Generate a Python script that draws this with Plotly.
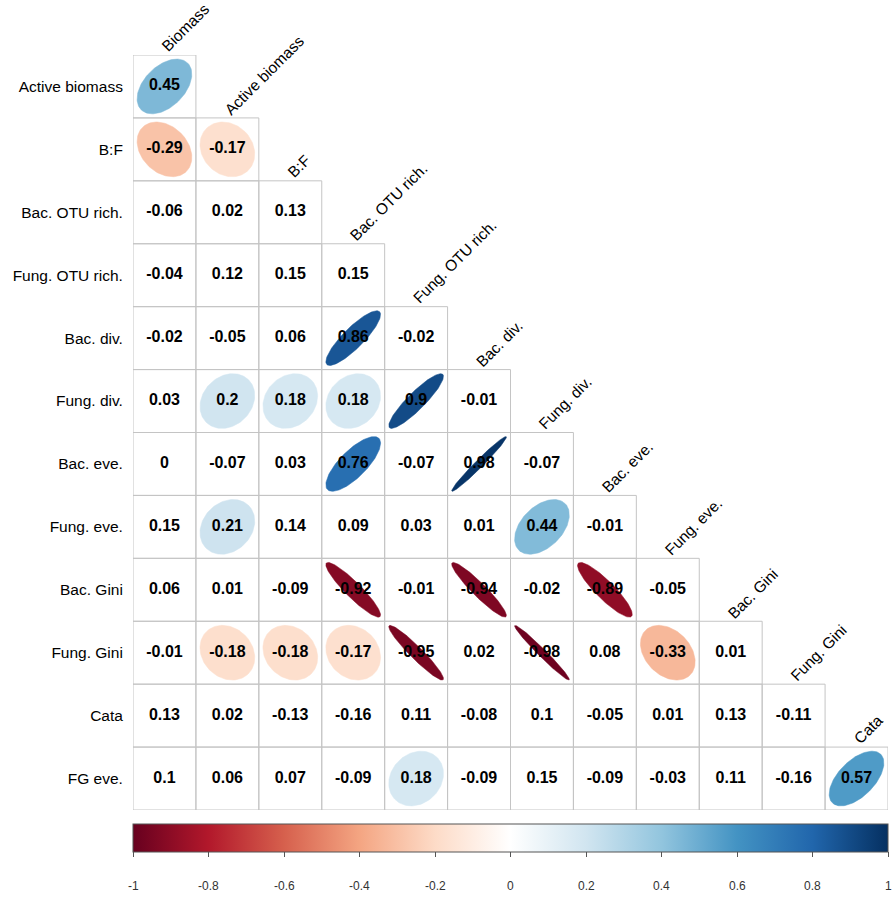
import numpy as np
import plotly.graph_objects as go
from plotly.colors import sample_colorscale

col_labels = ["Biomass", "Active biomass", "B:F", "Bac. OTU rich.", "Fung. OTU rich.",
              "Bac. div.", "Fung. div.", "Bac. eve.", "Fung. eve.", "Bac. Gini",
              "Fung. Gini", "Cata"]
row_labels = ["Active biomass", "B:F", "Bac. OTU rich.", "Fung. OTU rich.", "Bac. div.",
              "Fung. div.", "Bac. eve.", "Fung. eve.", "Bac. Gini", "Fung. Gini",
              "Cata", "FG eve."]

corr_rows = [
    [0.45],
    [-0.29, -0.17],
    [-0.06, 0.02, 0.13],
    [-0.04, 0.12, 0.15, 0.15],
    [-0.02, -0.05, 0.06, 0.86, -0.02],
    [0.03, 0.2, 0.18, 0.18, 0.9, -0.01],
    [0, -0.07, 0.03, 0.76, -0.07, 0.98, -0.07],
    [0.15, 0.21, 0.14, 0.09, 0.03, 0.01, 0.44, -0.01],
    [0.06, 0.01, -0.09, -0.92, -0.01, -0.94, -0.02, -0.89, -0.05],
    [-0.01, -0.18, -0.18, -0.17, -0.95, 0.02, -0.98, 0.08, -0.33, 0.01],
    [0.13, 0.02, -0.13, -0.16, 0.11, -0.08, 0.1, -0.05, 0.01, 0.13, -0.11],
    [0.1, 0.06, 0.07, -0.09, 0.18, -0.09, 0.15, -0.09, -0.03, 0.11, -0.16, 0.57],
]

# 1 = ellipse drawn (significant), 0 = number only
sig_rows = [
    [1],
    [1, 1],
    [0, 0, 0],
    [0, 0, 0, 0],
    [0, 0, 0, 1, 0],
    [0, 1, 1, 1, 1, 0],
    [0, 0, 0, 1, 0, 1, 0],
    [0, 1, 0, 0, 0, 0, 1, 0],
    [0, 0, 0, 1, 0, 1, 0, 1, 0],
    [0, 1, 1, 1, 1, 0, 1, 0, 1, 0],
    [0, 0, 0, 0, 0, 0, 0, 0, 0, 0, 0],
    [0, 0, 0, 0, 1, 0, 0, 0, 0, 0, 0, 1],
]

cbar_ticks = [-1, -0.8, -0.6, -0.4, -0.2, 0, 0.2, 0.4, 0.6, 0.8, 1]
cbar_ticktext = ["-1", "-0.8", "-0.6", "-0.4", "-0.2", "0", "0.2", "0.4", "0.6", "0.8", "1"]

palette = ["#67001F", "#B2182B", "#D6604D", "#F4A582", "#FDDBC7", "#FFFFFF",
           "#D1E5F0", "#92C5DE", "#4393C3", "#2166AC", "#053061"]
colorscale = [[k / (len(palette) - 1), c] for k, c in enumerate(palette)]

FONT = "Liberation Sans, Arial, sans-serif"
ELL_SCALE = 0.87

fig = go.Figure()

shapes = []
for i, row in enumerate(corr_rows):
    for j, _ in enumerate(row):
        shapes.append(dict(type="rect", xref="x", yref="y",
                           x0=j - 0.5, x1=j + 0.5, y0=i - 0.5, y1=i + 0.5,
                           line=dict(color="#c4c4c4", width=1), layer="below"))

# ellipses
k = np.linspace(0, 2 * np.pi, 120)
for i, row in enumerate(corr_rows):
    for j, r in enumerate(row):
        if not sig_rows[i][j]:
            continue
        a = np.arccos(r)
        ex = np.cos(k + a / 2) / 2 * ELL_SCALE
        ey = np.cos(k - a / 2) / 2 * ELL_SCALE
        col = sample_colorscale(colorscale, [(r + 1) / 2])[0]
        fig.add_trace(go.Scatter(x=j + ex, y=i - ey, mode="lines", fill="toself",
                                 fillcolor=col, line=dict(color=col, width=0.5),
                                 hoverinfo="skip", showlegend=False))

# numbers
xs, ys, txt, vals = [], [], [], []
for i, row in enumerate(corr_rows):
    for j, r in enumerate(row):
        xs.append(j)
        ys.append(i)
        txt.append(f"{r:g}")
        vals.append(r)

fig.add_trace(go.Scatter(
    x=xs, y=ys, text=txt, mode="markers+text", textposition="middle center",
    textfont=dict(family=FONT, size=16, color="black", weight="bold"),
    marker=dict(size=1, opacity=0, color=vals, colorscale=colorscale, cmin=-1, cmax=1,
                showscale=True,
                colorbar=dict(orientation="h", x=0, xanchor="left", len=1, lenmode="fraction",
                              y=-14 / 755, yanchor="top", thickness=28, thicknessmode="pixels",
                              xpad=0, ypad=0, outlinewidth=1, outlinecolor="#555555",
                              ticks="outside", ticklen=5, tickcolor="#555555", tickwidth=1,
                              tickvals=cbar_ticks, showticklabels=False)),
    hoverinfo="skip", showlegend=False))

annotations = []
for j, lab in enumerate(col_labels):
    annotations.append(dict(x=j, y=j - 0.5, xref="x", yref="y", text=lab, showarrow=False,
                            textangle=-45, xanchor="left", yanchor="bottom",
                            xshift=-9, yshift=-3,
                            font=dict(family=FONT, size=15.5, color="black")))
for v, t in zip(cbar_ticks, cbar_ticktext):
    annotations.append(dict(x=(v + 1) / 2, y=-(886 - 810) / 755, xref="paper", yref="paper",
                            text=t, showarrow=False, xanchor="center", yanchor="middle",
                            font=dict(family=FONT, size=12, color="#333333")))

fig.update_layout(
    width=895, height=897,
    margin=dict(l=133, r=7, t=55, b=87, pad=0),
    paper_bgcolor="white", plot_bgcolor="white",
    shapes=shapes, annotations=annotations,
    xaxis=dict(range=[-0.5, 11.5], showgrid=False, zeroline=False, showticklabels=False,
               showline=False, fixedrange=True),
    yaxis=dict(range=[11.5, -0.5], showgrid=False, zeroline=False, showline=False,
               tickmode="array", tickvals=list(range(len(row_labels))), ticktext=row_labels,
               ticks="outside", ticklen=6, tickcolor="rgba(0,0,0,0)",
               tickfont=dict(family=FONT, size=15.5, color="black"), fixedrange=True),
)

fig.write_html("out.html")
